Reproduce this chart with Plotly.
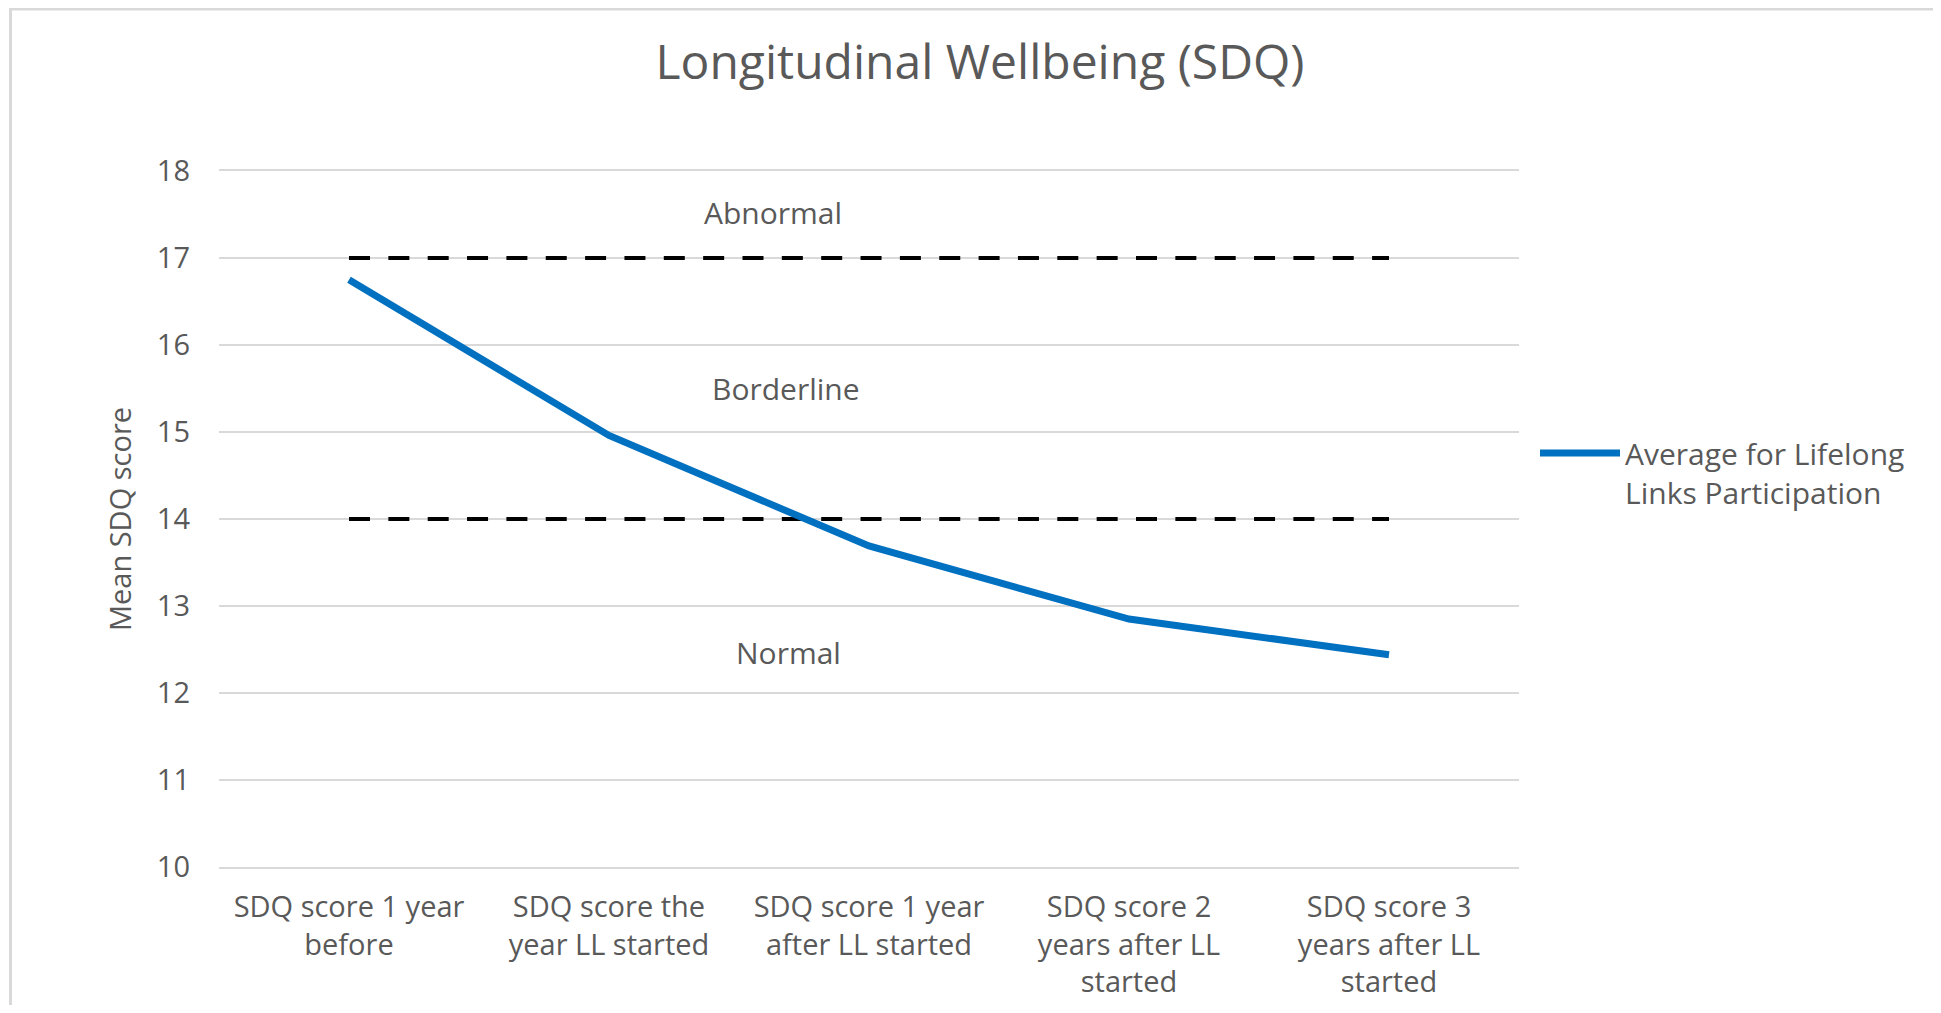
import plotly.graph_objects as go

categories = ["SDQ score 1 year before", "SDQ score the year LL started",
              "SDQ score 1 year after LL started", "SDQ score 2 years after LL started",
              "SDQ score 3 years after LL started"]
tick_labels = ["SDQ score 1 year<br>before", "SDQ score the<br>year LL started",
               "SDQ score 1 year<br>after LL started", "SDQ score 2<br>years after LL<br>started",
               "SDQ score 3<br>years after LL<br>started"]
mean_sdq = [16.75, 14.96, 13.69, 12.85, 12.44]
abnormal_threshold = [17, 17, 17, 17, 17]
borderline_threshold = [14, 14, 14, 14, 14]
zone_labels = ["Abnormal", "Borderline", "Normal"]
zone_label_y = [17.52, 15.5, 12.47]
zone_label_x = [1.63, 1.68, 1.69]

# page body has an 8px margin, so figure coords = page coords - 8
W, H = 1925, 997
L, R, T, B = 211, 1511, 163, 859
FONT = "Open Sans"
GREY_TXT = "#595959"
FS = 29
FS2 = 30
DASH = "21px,18.35px"

fig = go.Figure()
fig.add_trace(go.Scatter(x=categories, y=abnormal_threshold, mode="lines",
                         line=dict(color="black", width=4, dash=DASH),
                         showlegend=False, hoverinfo="skip"))
fig.add_trace(go.Scatter(x=categories, y=borderline_threshold, mode="lines",
                         line=dict(color="black", width=4, dash=DASH),
                         showlegend=False, hoverinfo="skip"))
fig.add_trace(go.Scatter(x=categories, y=mean_sdq, mode="lines",
                         name="Average for Lifelong<br>Links Participation",
                         line=dict(color="#0070C0", width=7)))

for txt, yv, xv in zip(zone_labels, zone_label_y, zone_label_x):
    fig.add_annotation(x=xv, y=yv, xref="x", yref="y", text=txt, showarrow=False,
                       font=dict(family=FONT, size=FS2, color=GREY_TXT))

pw, ph = R - L, B - T
fig.add_shape(type="rect", xref="paper", yref="paper",
              x0=(2.5 - L) / pw, x1=(W + 30 - L) / pw,
              y0=(B - (H + 30)) / ph, y1=(B - 1) / ph,
              line=dict(color="#d9d9d9", width=3), fillcolor="rgba(0,0,0,0)", layer="below")

fig.update_layout(
    width=W, height=H,
    margin=dict(l=L, r=W - R, t=T, b=H - B, autoexpand=False),
    paper_bgcolor="white", plot_bgcolor="white",
    font=dict(family=FONT, color=GREY_TXT, size=FS),
    title=dict(text="Longitudinal Wellbeing (SDQ)", x=972 / W, xanchor="center",
               y=1 - 54 / H, yanchor="middle", yref="container",
               font=dict(family=FONT, size=48, color=GREY_TXT)),
    showlegend=True,
    legend=dict(x=(1527 - L) / pw, y=(B - 419) / ph, xanchor="left", yanchor="top",
                font=dict(family=FONT, size=FS2, color=GREY_TXT), itemwidth=80,
                valign="top", bgcolor="rgba(0,0,0,0)"),
)
fig.update_xaxes(type="category", tickmode="array", tickvals=categories, ticktext=tick_labels,
                 showgrid=False, showline=True, linecolor="#d9d9d9", linewidth=2, mirror=True,
                 ticks="", range=[-0.5, 4.5], ticklabelstandoff=13, automargin=False,
                 tickfont=dict(family=FONT, size=FS, color=GREY_TXT))
fig.update_yaxes(range=[10, 18], dtick=1, tick0=10, showgrid=True, gridcolor="#d9d9d9",
                 gridwidth=2, zeroline=False, showline=False, ticks="", ticklabelstandoff=28,
                 automargin=False,
                 tickfont=dict(family=FONT, size=FS, color=GREY_TXT),
                 title=dict(text="Mean SDQ score", standoff=16,
                            font=dict(family=FONT, size=FS, color=GREY_TXT)))

fig.write_html("out.html")
